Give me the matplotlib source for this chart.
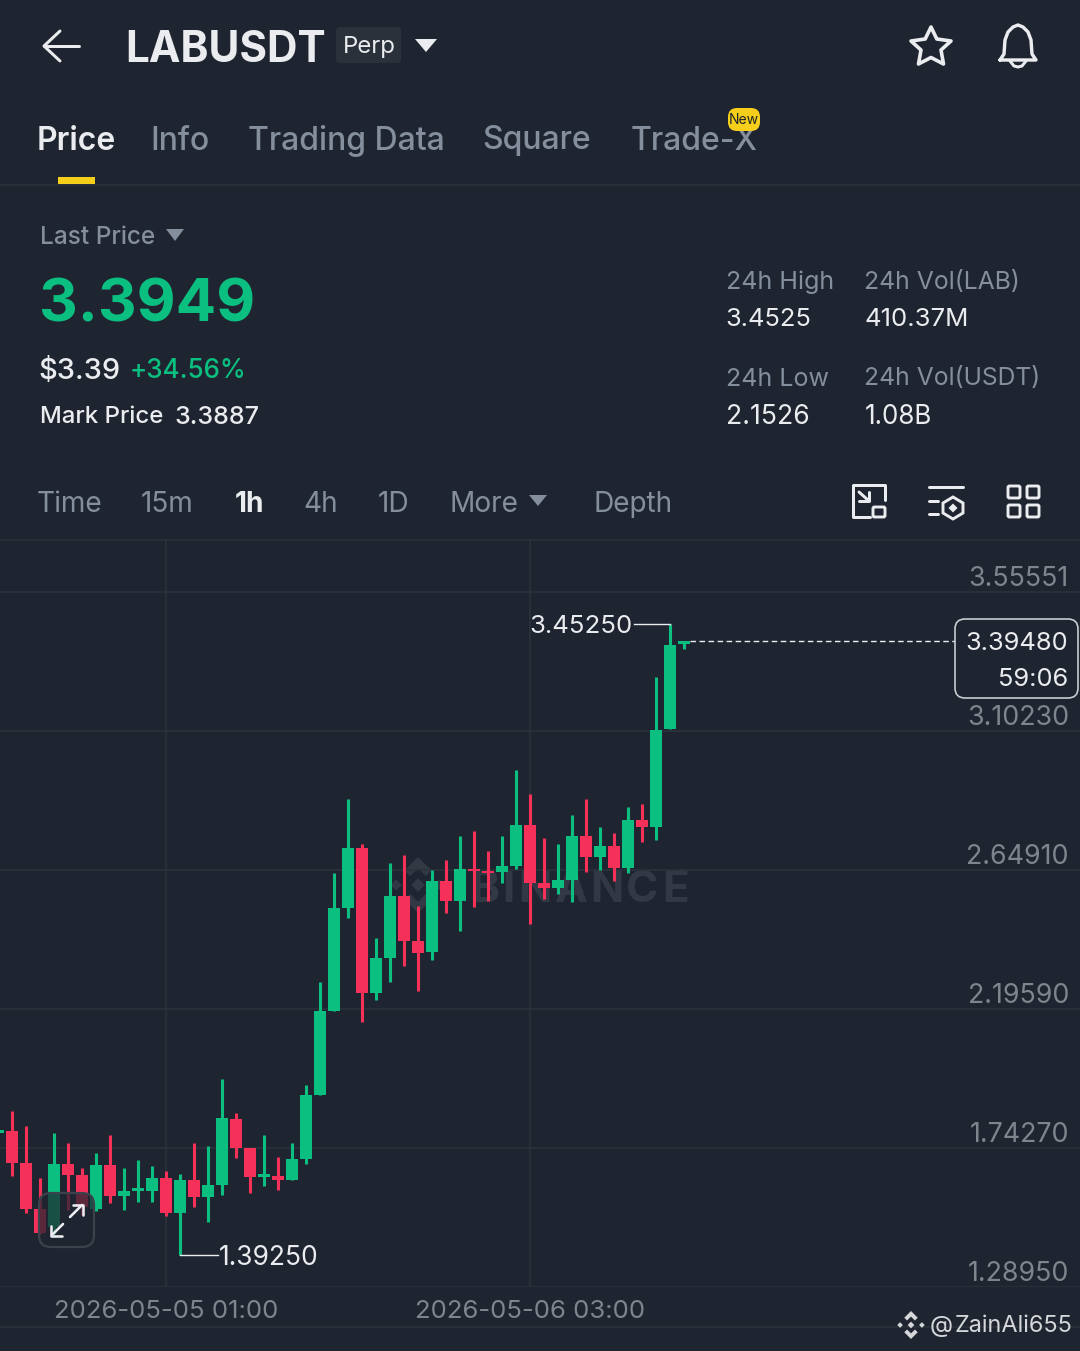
import matplotlib as mpl
mpl.use('Agg')
import matplotlib.dates as mdates
import matplotlib.pyplot as plt
import pandas as pd
from matplotlib.patches import FancyBboxPatch, Polygon, Rectangle

plt.rcParams['font.family'] = ['Inter', 'DejaVu Sans']

# candles, one per hour
start_time = "2026-05-04 13:00"
opens = [1.792, 1.798, 1.694, 1.544, 1.485, 1.691, 1.655, 1.544, 1.687, 1.586,
         1.602, 1.602, 1.645, 1.531, 1.638, 1.583, 1.622, 1.837, 1.743, 1.648,
         1.651, 1.638, 1.707, 1.915, 2.189, 2.525, 2.721, 2.248, 2.362, 2.564,
         2.417, 2.381, 2.613, 2.548, 2.652, 2.646, 2.642, 2.662, 2.796, 2.607,
         2.590, 2.616, 2.760, 2.691, 2.727, 2.655, 2.812, 2.789, 3.108, 3.386]
highs = [1.801, 1.863, 1.814, 1.645, 1.792, 1.759, 1.677, 1.726, 1.785, 1.677,
         1.704, 1.684, 1.668, 1.658, 1.759, 1.749, 1.968, 1.857, 1.743, 1.785,
         1.713, 1.759, 1.948, 2.284, 2.639, 2.880, 2.734, 2.427, 2.672, 2.698,
         2.532, 2.649, 2.682, 2.760, 2.776, 2.711, 2.760, 2.975, 2.897, 2.753,
         2.734, 2.828, 2.880, 2.789, 2.770, 2.854, 2.864, 3.278, 3.4525, 3.3948]
lows = [1.792, 1.651, 1.531, 1.462, 1.453, 1.541, 1.524, 1.537, 1.563, 1.541,
        1.566, 1.566, 1.521, 1.3925, 1.550, 1.501, 1.590, 1.710, 1.596, 1.619,
        1.606, 1.638, 1.691, 1.915, 2.189, 2.492, 2.153, 2.225, 2.284, 2.336,
        2.254, 2.355, 2.509, 2.450, 2.528, 2.548, 2.607, 2.652, 2.473, 2.554,
        2.571, 2.545, 2.642, 2.649, 2.613, 2.639, 2.740, 2.747, 3.108, 3.369]
closes = [1.801, 1.694, 1.544, 1.466, 1.691, 1.655, 1.550, 1.687, 1.586, 1.602,
          1.612, 1.645, 1.531, 1.638, 1.583, 1.622, 1.841, 1.743, 1.648, 1.658,
          1.638, 1.707, 1.915, 2.189, 2.525, 2.721, 2.248, 2.362, 2.564, 2.417,
          2.378, 2.613, 2.548, 2.652, 2.646, 2.639, 2.662, 2.796, 2.607, 2.590,
          2.616, 2.760, 2.691, 2.727, 2.655, 2.812, 2.789, 3.105, 3.382, 3.3948]

price_ticks = [3.55551, 3.10230, 2.64910, 2.19590, 1.74270, 1.28950]
time_ticks = ["2026-05-05 01:00", "2026-05-06 03:00"]
high_label = "3.45250"
low_label = "1.39250"
last_label = "3.39480"
countdown = "59:06"

tabs = ["Price", "Info", "Trading Data", "Square", "Trade-X"]
tab_x = [37, 150, 248, 482, 631]
intervals = ["Time", "15m", "1h", "4h", "1D", "More", "Depth"]
interval_x = [37, 141, 235, 303, 378, 450, 594]
watermark = "BINANCE"
watermark_x = [470, 502.5, 518, 554.5, 590, 626.5, 662]

BG = "#1f2530"
GRID = "#2c323b"
GREEN = "#0bbf80"
RED = "#f5315a"
GRAY = "#848e9c"
AXIS_GRAY = "#7f858d"
WHITE = "#eaecef"
YELLOW = "#f5cf1c"
MARK = "#323944"
FOOT = "#d5d7da"


def txt(ax, x, y, s, px, color=WHITE, weight="normal", ha="left", va="center", **kw):
    # sizes given in pixels, dpi is 100. y + 2 because va=center sits a bit high
    return ax.text(x, y + 2, s, fontsize=px * 0.72, color=color, fontweight=weight, ha=ha, va=va, **kw)


def stroke(ax, xs, ys, lw=3, color=WHITE):
    ax.plot(xs, ys, color=color, lw=lw * 0.72, solid_capstyle="round", solid_joinstyle="round")


def draw_logo(ax, cx, cy, r, color, zorder=1):
    def diamond(dx, dy, s):
        return [(dx, dy - s), (dx + s, dy), (dx, dy + s), (dx - s, dy)]
    top = [(0, -1), (0.48, -0.52), (0.28, -0.32), (0, -0.6), (-0.28, -0.32), (-0.48, -0.52)]
    bottom = [(x, -y) for x, y in top]
    shapes = [diamond(0, 0, 0.24), diamond(-0.78, 0, 0.2), diamond(0.78, 0, 0.2), top, bottom]
    for shape in shapes:
        ax.add_patch(Polygon([(cx + x * r, cy + y * r) for x, y in shape], closed=True, fc=color, ec="none", zorder=zorder))


def pixel_axes(fig, zorder):
    ax = fig.add_axes([0, 0, 1, 1], zorder=zorder)
    ax.set_xlim(0, 1080)
    ax.set_ylim(1351, 0)
    ax.axis("off")
    return ax


fig = plt.figure(figsize=(10.8, 13.51), dpi=100, facecolor=BG)

under = pixel_axes(fig, 0)
over = pixel_axes(fig, 2)

# watermark goes under the candles
draw_logo(under, 418, 885, 28, MARK)
for letter, x in zip(watermark, watermark_x):
    txt(under, x, 889, letter, 44, color=MARK, weight="bold")

# chart
hour = 1 / 24
times = mdates.date2num(pd.date_range(start_time, periods=len(opens), freq="h"))
tick_nums = mdates.date2num(pd.to_datetime(time_ticks))
per_px = (price_ticks[0] - price_ticks[-1]) / (1287 - 592)

ax = fig.add_axes([0, (1351 - 1287) / 1351, 1, (1287 - 540) / 1351], zorder=1)
ax.patch.set_alpha(0)
ax.set_xlim(tick_nums[0] - 166 / 14 * hour, tick_nums[0] + (1080 - 166) / 14 * hour)
ax.set_ylim(price_ticks[-1], price_ticks[-1] + (1287 - 540) * per_px)
for spine in ax.spines.values():
    spine.set_visible(False)

ax.set_axisbelow(True)
ax.grid(True, color=GRID, lw=1.2)
ax.yaxis.tick_right()
ax.set_yticks(price_ticks, [f"{p:.5f}" for p in price_ticks])
ax.set_xticks(tick_nums, time_ticks)
ax.tick_params(axis="y", length=0, pad=-8, labelsize=19.3, labelcolor=AXIS_GRAY)
ax.tick_params(axis="x", length=0, pad=9, labelsize=18.5, labelcolor=AXIS_GRAY)
for label in ax.get_yticklabels():
    label.set_ha("right")
    label.set_va("bottom")

colors = [GREEN if c >= o else RED for o, c in zip(opens, closes)]
ax.vlines(times, lows, highs, colors=colors, lw=2.2)
ax.bar(times, [abs(c - o) for o, c in zip(opens, closes)], bottom=[min(o, c) for o, c in zip(opens, closes)],
       width=12 / 14 * hour, color=colors)

# high / low / last annotations
i_high = highs.index(max(highs))
i_low = lows.index(min(lows))
ax.plot([times[i_high] - 36 / 14 * hour, times[i_high]], [highs[i_high]] * 2, color=WHITE, lw=1)
ax.annotate(high_label, (times[i_high] - 37 / 14 * hour, highs[i_high]), xytext=(0, -3), textcoords="offset pixels",
            fontsize=18.6, color=WHITE, ha="right", va="center")
ax.plot([times[i_low], times[i_low] + 38 / 14 * hour], [lows[i_low]] * 2, color=WHITE, lw=1)
ax.annotate(low_label, (times[i_low] + 39 / 14 * hour, lows[i_low]), xytext=(0, -3), textcoords="offset pixels",
            fontsize=19, color=WHITE, ha="left", va="center")
ax.plot([times[-1] + 0.45 * hour, tick_nums[0] + (955 - 166) / 14 * hour], [closes[-1]] * 2, color=WHITE, lw=1, dashes=(4, 2.5))

# price box
over.add_patch(FancyBboxPatch((961, 625), 111, 67, boxstyle="round,pad=6,rounding_size=10", fc=BG, ec="#c8cbd0", lw=1.2))
txt(over, 1068, 642, last_label, 25.4, ha="right")
txt(over, 1068, 677, countdown, 25.4, ha="right")

# header
stroke(over, [44, 79], [46, 46])
stroke(over, [60, 44, 60], [31, 46, 61])
txt(over, 125.5, 48, "LABUSDT", 42.3, weight="bold")
over.add_patch(FancyBboxPatch((339, 30), 59, 30, boxstyle="round,pad=3,rounding_size=4", fc="#2a313b", ec="none"))
txt(over, 343, 45, "Perp", 24, color=WHITE)
over.add_patch(Polygon([(415, 39), (437, 39), (426, 52)], closed=True, fc=WHITE, ec="none"))

star = [(931, 27), (936.8, 39), (951, 41), (941, 50), (943.5, 64), (931, 57.5), (918.5, 64), (921, 50), (911, 41), (925.2, 39)]
over.add_patch(Polygon(star, closed=True, fc="none", ec=WHITE, lw=2.6, joinstyle="round"))
# bell
stroke(over, [1000, 1004, 1005, 1008, 1013, 1018, 1023, 1028, 1031, 1032, 1036, 1000],
       [60, 54, 40, 32, 27, 25, 27, 32, 40, 54, 60, 60], lw=3.4)
stroke(over, [1010, 1014, 1018, 1022, 1026], [61, 66, 67, 66, 61], lw=3)

# tabs
for name, x in zip(tabs, tab_x):
    active = name == "Price"
    txt(over, x, 139, name, 32, color=WHITE if active else GRAY, weight="semibold" if active else "medium")
over.add_patch(FancyBboxPatch((734, 114), 20, 11, boxstyle="round,pad=6,rounding_size=9", fc=YELLOW, ec="none", zorder=4))
txt(over, 744, 118, "New", 14, color="#1e2329", ha="center", zorder=5)
over.add_patch(Rectangle((58, 177), 37, 7, fc=YELLOW, ec="none"))
over.plot([0, 1080], [184.5, 184.5], color=GRID, lw=1.2)

# price block
txt(over, 40, 236, "Last Price", 24.4, color=GRAY, weight="medium")
over.add_patch(Polygon([(166, 229), (184, 229), (175, 241)], closed=True, fc=GRAY, ec="none"))
txt(over, 39.5, 304, "3.3949", 60, color=GREEN, weight="bold")
txt(over, 38.5, 369, "$3.39", 29, weight="medium")
txt(over, 130, 369, "+34.56%", 26, color=GREEN, weight="medium")
txt(over, 40, 415, "Mark Price", 24, weight="medium")
txt(over, 174.5, 415, "3.3887", 25, weight="medium")

txt(over, 726, 280, "24h High", 25, color=GRAY)
txt(over, 725, 318, "3.4525", 25.5)
txt(over, 726, 377, "24h Low", 25, color=GRAY)
txt(over, 726, 415, "2.1526", 26.6)
txt(over, 864, 280, "24h Vol(LAB)", 24.8, color=GRAY)
txt(over, 864, 318, "410.37M", 25.8)
txt(over, 864, 377, "24h Vol(USDT)", 24.7, color=GRAY)
txt(over, 865, 415, "1.08B", 26)

# interval row
for name, x in zip(intervals, interval_x):
    active = name == "1h"
    txt(over, x, 502, name, 28, color=WHITE if active else GRAY, weight="bold" if active else "normal")
over.add_patch(Polygon([(529, 495), (547, 495), (538, 506)], closed=True, fc=GRAY, ec="none"))

# toolbar icons
stroke(over, [870, 853, 853, 885, 885], [517, 517, 485, 485, 500], lw=3)
over.add_patch(FancyBboxPatch((873, 507), 12, 10, boxstyle="round,pad=0,rounding_size=1.5", fc="none", ec=WHITE, lw=2.1))
stroke(over, [859, 869], [492, 501], lw=3)
stroke(over, [859, 869, 869], [501, 501, 492], lw=3)
stroke(over, [929, 963], [487, 487], lw=3)
stroke(over, [929, 938], [501, 501], lw=3)
stroke(over, [929, 938], [514, 514], lw=3)
hexagon = [(953, 497), (963, 503), (963, 513), (953, 519), (943, 513), (943, 503)]
over.add_patch(Polygon(hexagon, closed=True, fc="none", ec=WHITE, lw=2.1))
over.add_patch(Polygon([(953, 503.5), (957.5, 508), (953, 512.5), (948.5, 508)], closed=True, fc=WHITE, ec="none"))
for x0 in (1008, 1027):
    for y0 in (486, 505):
        over.add_patch(FancyBboxPatch((x0, y0), 12, 12, boxstyle="round,pad=0,rounding_size=1.5", fc="none", ec=WHITE, lw=2.1))

over.plot([0, 1080], [540, 540], color=GRID, lw=1.2)
over.plot([0, 1080], [1327, 1327], color=GRID, lw=1.2)

# zoom button over the candles
over.add_patch(FancyBboxPatch((45, 1199), 43, 42, boxstyle="round,pad=6,rounding_size=12", fc=BG, alpha=0.72, ec="none"))
over.add_patch(FancyBboxPatch((45, 1199), 43, 42, boxstyle="round,pad=6,rounding_size=12", fc="none", ec="#3c424c", lw=1.6))
stroke(over, [70, 82], [1217, 1205], lw=2.6)
stroke(over, [73, 83, 83], [1205, 1205, 1215], lw=2.6)
stroke(over, [63, 52], [1224, 1235], lw=2.6)
stroke(over, [51, 51, 62], [1226, 1236, 1236], lw=2.6)

# footer watermark
draw_logo(over, 911, 1325, 14, FOOT, zorder=3)
txt(over, 930, 1324, "@", 24, color=FOOT)
txt(over, 955, 1324, "ZainAli655", 23.5, color=FOOT)

fig.savefig("out.png", dpi=100, facecolor=BG)
